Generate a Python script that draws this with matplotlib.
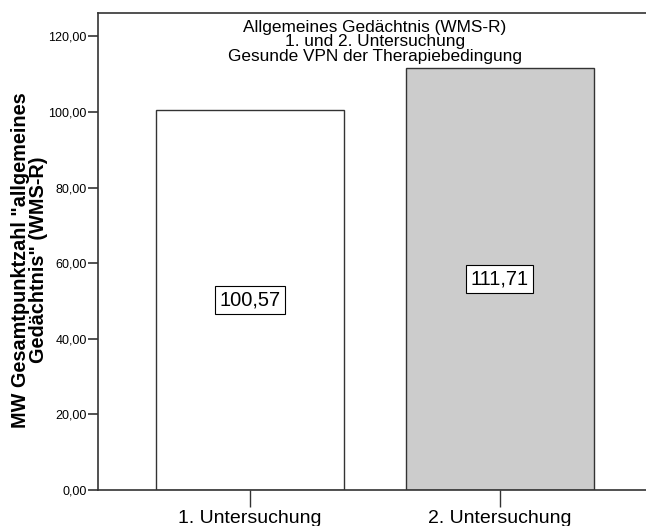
import matplotlib
matplotlib.use("Agg")
import matplotlib.pyplot as plt
from matplotlib.ticker import FuncFormatter

plt.rcParams['font.family'] = ['Liberation Sans', 'DejaVu Sans']

categories = ["1. Untersuchung", "2. Untersuchung"]
means = [100.57, 111.71]
bar_colors = ["white", "#cccccc"]
title_lines = ["Allgemeines Gedächtnis (WMS-R)",
               "1. und 2. Untersuchung",
               "Gesunde VPN der Therapiebedingung"]
ylabel = 'MW Gesamtpunktzahl "allgemeines\nGedächtnis" (WMS-R)'

fig = plt.figure(figsize=(6.46, 5.26), dpi=100)
ax = fig.add_axes([0.1517, 0.0684, 0.8575, 0.9069])

x = list(range(len(categories)))
ax.bar(x, means, width=0.75, color=bar_colors, edgecolor="#333333", linewidth=1.0)

for xi, m in zip(x, means):
    ax.text(xi, m / 2, ("%.2f" % m).replace(".", ","), ha="center", va="center",
            fontsize=14.5,
            bbox=dict(boxstyle="square,pad=0.22", facecolor="white",
                      edgecolor="black", linewidth=0.8))

ax.set_xlim(-0.608, 1.608)
ax.set_ylim(0, 126.2)
ax.set_xticks(x)
ax.set_xticklabels(categories, fontsize=14)
ax.set_yticks([0, 20, 40, 60, 80, 100, 120])
ax.yaxis.set_major_formatter(FuncFormatter(lambda v, p: ("%.2f" % v).replace(".", ",")))
ax.tick_params(axis="y", labelsize=9, length=7, width=1.2, color="#333333", pad=1)
ax.tick_params(axis="x", length=12, width=1.0, color="#333333", pad=2.5)

for s in ["left", "bottom", "top"]:
    ax.spines[s].set_color("#333333")
    ax.spines[s].set_linewidth(1.2)
ax.spines["right"].set_visible(False)

ax.text(0.5, 0.986, "\n".join(title_lines), transform=ax.transAxes,
        ha="center", va="top", fontsize=12.4, linespacing=0.97)

ax.set_ylabel(ylabel, fontsize=14.3, fontweight="bold", linespacing=0.95)
ax.yaxis.set_label_coords(-0.09, 0.482)

fig.savefig("out.png", dpi=100)
